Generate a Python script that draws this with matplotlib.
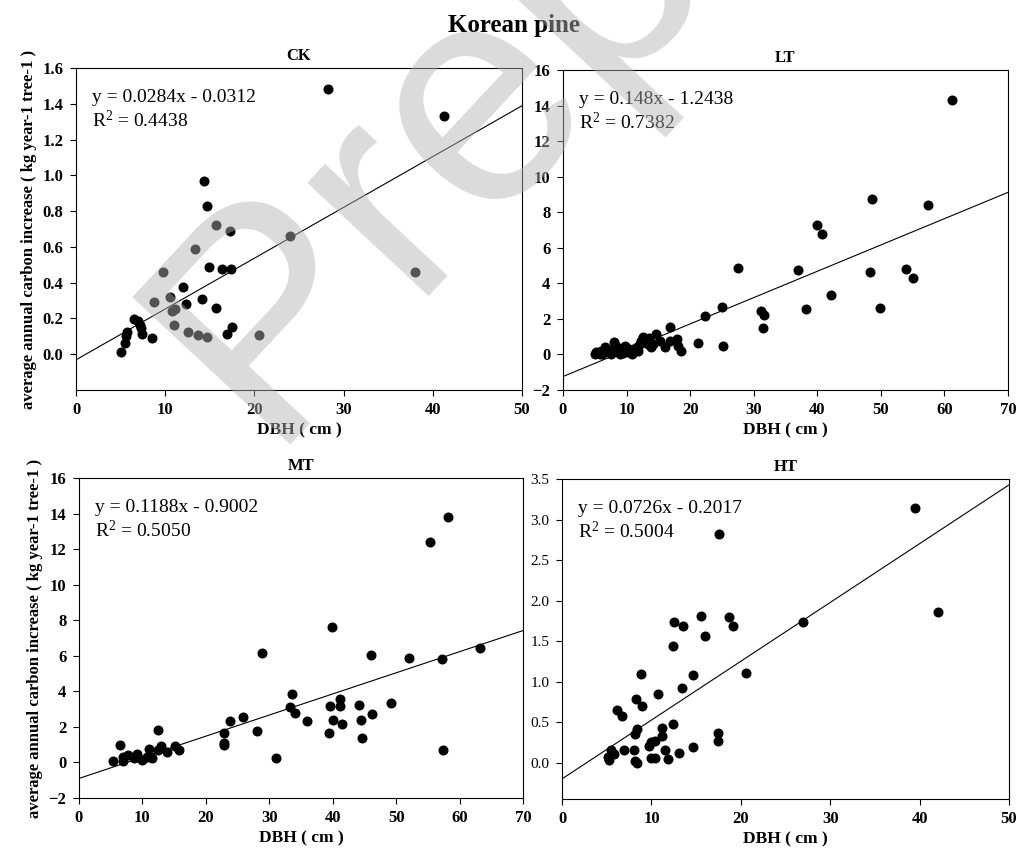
import matplotlib
matplotlib.use("Agg")
import matplotlib.pyplot as plt
import numpy as np

plt.rcParams['font.family'] = ['Liberation Serif', 'DejaVu Serif']
plt.rcParams['mathtext.fontset'] = 'custom'
plt.rcParams['mathtext.rm'] = 'Liberation Serif'
plt.rcParams['mathtext.it'] = 'Liberation Serif:italic'

# CK
ck_dbh = [28.3, 41.2, 14.3, 14.7, 15.7, 17.3, 24.0, 13.3, 14.9, 16.4, 17.4, 38.0, 9.8,
          12.0, 10.5, 8.7, 12.3, 14.1, 15.7, 10.8, 11.1, 6.5, 7.0, 7.2, 7.3, 7.4, 5.7,
          5.6, 5.5, 5.0, 8.5, 11.0, 12.6, 13.7, 14.7, 16.9, 17.5, 20.5]
ck_carbon = [1.48, 1.33, 0.97, 0.83, 0.72, 0.69, 0.66, 0.59, 0.49, 0.475, 0.475, 0.457, 0.457,
             0.374, 0.318, 0.29, 0.283, 0.309, 0.259, 0.244, 0.253, 0.198, 0.185, 0.166, 0.144,
             0.115, 0.126, 0.10, 0.061, 0.015, 0.089, 0.163, 0.124, 0.107, 0.094, 0.115, 0.154, 0.107]

# LT
lt_dbh = [61.2, 48.6, 57.5, 39.9, 40.8, 27.6, 36.9, 48.3, 54.0, 55.0, 42.2, 38.3, 49.9, 25.0,
          22.3, 31.2, 31.7, 31.5, 25.2, 21.2,
          5.25, 6.0, 6.6, 7.35, 8.1, 8.4, 9.2, 9.7, 10.2, 10.8, 11.0, 11.6, 12.1, 12.6, 12.9,
          13.4, 13.9, 14.2, 14.7, 15.2, 16.0, 16.8, 16.8, 17.9, 18.1, 18.6,
          5.0, 5.8, 6.8, 7.5, 8.3, 9.5, 10.3, 11.8, 13.5, 12.3, 6.2, 7.9, 9.0, 10.0, 8.8]
lt_carbon = [14.3, 8.73, 8.39, 7.28, 6.76, 4.87, 4.76, 4.61, 4.81, 4.29, 3.33, 2.58, 2.60, 2.68,
             2.19, 2.45, 2.21, 1.50, 0.45, 0.67,
             0.11, 0.21, 0.40, 0.11, 0.68, 0.21, 0.30, 0.49, 0.11, 0.02, 0.30, 0.40, 0.58, 0.96, 0.68,
             0.58, 0.40, 0.58, 1.14, 0.77, 0.40, 1.52, 0.77, 0.86, 0.49, 0.21,
             0.05, 0.0, 0.2, 0.0, 0.45, 0.1, 0.25, 0.2, 0.9, 0.75, 0.05, 0.3, 0.05, 0.35, 0.15]

# MT
mt_dbh = [58.2, 55.3, 39.9, 28.8, 46.1, 52.0, 57.2, 63.2, 33.6, 33.3, 34.1, 39.5, 41.1, 41.2,
          44.1, 49.2, 46.2, 44.5, 40.1, 41.5, 35.9, 39.4, 44.6, 57.4, 31.0, 25.8, 23.8, 28.1,
          22.9, 22.9, 22.9, 12.5, 12.9, 12.5, 13.8, 15.2, 15.7, 11.0, 11.5, 10.7, 10.0, 9.1,
          9.1, 7.8, 7.0, 6.9, 6.4, 5.4, 8.6]
mt_carbon = [13.83, 12.39, 7.63, 6.17, 6.07, 5.86, 5.81, 6.43, 3.83, 3.12, 2.80, 3.18, 3.55, 3.20,
             3.21, 3.33, 2.74, 2.41, 2.37, 2.14, 2.31, 1.64, 1.37, 0.71, 0.24, 2.56, 2.33, 1.79,
             1.65, 1.11, 0.96, 1.82, 0.94, 0.71, 0.60, 0.90, 0.68, 0.75, 0.26, 0.30, 0.11, 0.49,
             0.30, 0.43, 0.30, 0.09, 0.96, 0.09, 0.24]

# HT
ht_dbh = [39.5, 17.6, 42.1, 26.9, 15.5, 18.7, 19.1, 12.5, 13.5, 16.0, 12.4, 20.6, 8.8, 14.7,
          13.4, 10.7, 8.3, 8.9, 6.1, 6.7, 8.4, 8.2, 11.2, 12.4, 11.2, 17.5, 17.5, 9.7, 10.0,
          10.4, 11.5, 14.6, 13.1, 6.9, 8.1, 5.5, 5.8, 5.1, 5.3, 8.2, 8.4, 9.9, 10.4, 11.9]
ht_carbon = [3.14, 2.82, 1.86, 1.74, 1.81, 1.80, 1.68, 1.74, 1.68, 1.56, 1.44, 1.10, 1.09, 1.08,
             0.92, 0.84, 0.78, 0.70, 0.65, 0.58, 0.42, 0.35, 0.43, 0.47, 0.33, 0.37, 0.26, 0.20, 0.25,
             0.26, 0.16, 0.19, 0.12, 0.15, 0.15, 0.16, 0.11, 0.07, 0.03, 0.02, 0.00, 0.05, 0.05, 0.04]

panels = [
    ("CK", ck_dbh, ck_carbon, 0.0284, -0.0312, "0.4438", (0, 50), (-0.2, 1.6), 0.2),
    ("LT", lt_dbh, lt_carbon, 0.148, -1.2438, "0.7382", (0, 70), (-2, 16), 2),
    ("MT", mt_dbh, mt_carbon, 0.1188, -0.9002, "0.5050", (0, 70), (-2, 16), 2),
    ("HT", ht_dbh, ht_carbon, 0.0726, -0.2017, "0.5004", (0, 50), (-0.45, 3.5), 0.5),
]

positions = [
    [0.0747, 0.5444, 0.4381, 0.3762],
    [0.5530, 0.5444, 0.4371, 0.3738],
    [0.0776, 0.0678, 0.4361, 0.3738],
    [0.5521, 0.0666, 0.4391, 0.3738],
]

ylab = "average annual carbon increase ( kg year-1 tree-1 )"

fig = plt.figure(figsize=(10.18, 8.56), dpi=100)
fig.text(0.505, 0.970, "Korean pine", ha='center', va='center', fontsize=18, fontweight='bold')

for i, (name, x, y, slope, icpt, r2, xlim, ylim, ystep) in enumerate(panels):
    ax = fig.add_axes(positions[i])
    ax.scatter(x, y, s=52, color='black', zorder=3, linewidths=0)
    xs = np.array(xlim, dtype=float)
    ax.plot(xs, slope * xs + icpt, color='black', linewidth=0.8, zorder=2)
    ax.set_xlim(*xlim)
    ax.set_ylim(*ylim)
    ax.set_xticks(np.arange(xlim[0], xlim[1] + 1, 10))
    if ystep < 1:
        yt = np.arange(0, ylim[1] + 1e-6, ystep)
        ax.set_yticks(yt)
        ax.set_yticklabels(["%.1f" % v for v in yt])
    else:
        ax.set_yticks(np.arange(ylim[0], ylim[1] + 1, ystep))
    ax.tick_params(direction='out', length=4, width=0.8, pad=5, labelsize=12)
    for lab in ax.get_xticklabels():
        lab.set_fontweight('bold')
    for lab in ax.get_yticklabels():
        lab.set_fontweight('normal' if name == "HT" else 'bold')
    if name == "HT":
        ax.tick_params(axis='y', labelsize=11)
    for sp in ax.spines.values():
        sp.set_linewidth(0.8)
    ax.set_title(name, fontsize=12, fontweight='bold', pad=6)
    ax.set_xlabel("DBH ( cm )", fontsize=12.5, fontweight='bold', labelpad=3)
    if i in (0, 2):
        ax.set_ylabel(ylab, fontsize=12, fontweight='bold', labelpad=4)
    sign = '-' if icpt < 0 else '+'
    ax.text(0.036, 0.935, "y = %gx %s %.4f" % (slope, sign, abs(icpt)), transform=ax.transAxes,
            fontsize=14, va='top', ha='left')
    ax.text(0.036, 0.87, r"R$^2$ = " + r2, transform=ax.transAxes,
            fontsize=14, va='top', ha='left')

# watermark
fig.text(265 / 1018, 1 - 445 / 856, "Prep", fontsize=225, family='Liberation Sans',
         color=(0.7, 0.7, 0.7), alpha=0.47, rotation=47, rotation_mode='anchor',
         ha='left', va='baseline', zorder=10)

fig.savefig("out.png", dpi=100)
